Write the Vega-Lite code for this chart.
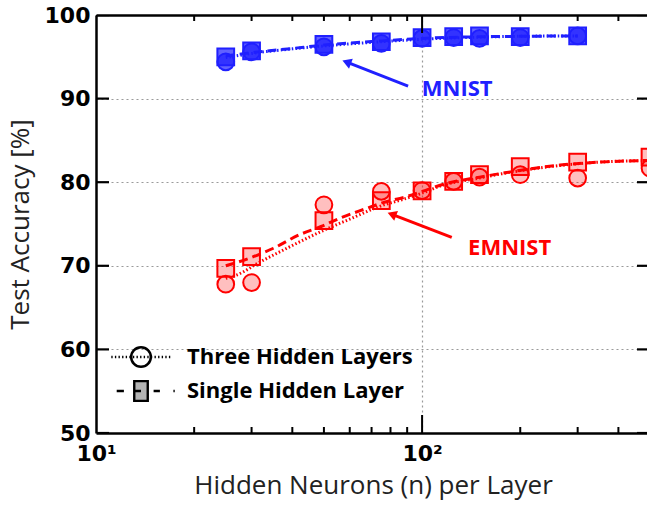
{
  "$schema": "https://vega.github.io/schema/vega-lite/v6.json",
  "width": 554,
  "height": 418,
  "autosize": "none",
  "padding": {"left": 96, "top": 15, "right": 0, "bottom": 82},
  "background": "white",
  "config": {
    "view": {"stroke": null},
    "axis": {
      "domainColor": "black",
      "domainWidth": 2.5,
      "ticks": false,
      "labelColor": "black",
      "labelFont": "DejaVu Sans",
      "labelFontWeight": "bold",
      "labelFontSize": 22,
      "titleFont": "Open Sans",
      "titleFontWeight": "normal",
      "titleFontSize": 26,
      "titleColor": "#222222",
      "gridColor": "#9a9a9a",
      "gridDash": [2, 3],
      "gridWidth": 1.2
    }
  },
  "datasets": {
    "curves": [
      {"dataset": "MNIST", "layers": "Three Hidden Layers", "n": 25, "acc": 94.9},
      {"dataset": "MNIST", "layers": "Three Hidden Layers", "n": 30, "acc": 95.4},
      {"dataset": "MNIST", "layers": "Three Hidden Layers", "n": 40, "acc": 95.95},
      {"dataset": "MNIST", "layers": "Three Hidden Layers", "n": 50, "acc": 96.3},
      {"dataset": "MNIST", "layers": "Three Hidden Layers", "n": 75, "acc": 96.8},
      {"dataset": "MNIST", "layers": "Three Hidden Layers", "n": 100, "acc": 97.1},
      {"dataset": "MNIST", "layers": "Three Hidden Layers", "n": 150, "acc": 97.35},
      {"dataset": "MNIST", "layers": "Three Hidden Layers", "n": 200, "acc": 97.45},
      {"dataset": "MNIST", "layers": "Three Hidden Layers", "n": 300, "acc": 97.5},
      {"dataset": "MNIST", "layers": "Single Hidden Layer", "n": 25, "acc": 95.1},
      {"dataset": "MNIST", "layers": "Single Hidden Layer", "n": 30, "acc": 95.5},
      {"dataset": "MNIST", "layers": "Single Hidden Layer", "n": 40, "acc": 96.0},
      {"dataset": "MNIST", "layers": "Single Hidden Layer", "n": 50, "acc": 96.4},
      {"dataset": "MNIST", "layers": "Single Hidden Layer", "n": 75, "acc": 96.9},
      {"dataset": "MNIST", "layers": "Single Hidden Layer", "n": 100, "acc": 97.2},
      {"dataset": "MNIST", "layers": "Single Hidden Layer", "n": 150, "acc": 97.4},
      {"dataset": "MNIST", "layers": "Single Hidden Layer", "n": 200, "acc": 97.45},
      {"dataset": "MNIST", "layers": "Single Hidden Layer", "n": 300, "acc": 97.5},
      {"dataset": "EMNIST", "layers": "Three Hidden Layers", "n": 25, "acc": 68.5},
      {"dataset": "EMNIST", "layers": "Three Hidden Layers", "n": 27, "acc": 68.9},
      {"dataset": "EMNIST", "layers": "Three Hidden Layers", "n": 32, "acc": 70.5},
      {"dataset": "EMNIST", "layers": "Three Hidden Layers", "n": 38.5, "acc": 72.1},
      {"dataset": "EMNIST", "layers": "Three Hidden Layers", "n": 49, "acc": 74.1},
      {"dataset": "EMNIST", "layers": "Three Hidden Layers", "n": 61, "acc": 75.7},
      {"dataset": "EMNIST", "layers": "Three Hidden Layers", "n": 74, "acc": 77.1},
      {"dataset": "EMNIST", "layers": "Three Hidden Layers", "n": 90, "acc": 78.1},
      {"dataset": "EMNIST", "layers": "Three Hidden Layers", "n": 100, "acc": 78.7},
      {"dataset": "EMNIST", "layers": "Three Hidden Layers", "n": 115, "acc": 79.6},
      {"dataset": "EMNIST", "layers": "Three Hidden Layers", "n": 150, "acc": 80.5},
      {"dataset": "EMNIST", "layers": "Three Hidden Layers", "n": 175, "acc": 81.0},
      {"dataset": "EMNIST", "layers": "Three Hidden Layers", "n": 265, "acc": 82.0},
      {"dataset": "EMNIST", "layers": "Three Hidden Layers", "n": 350, "acc": 82.4},
      {"dataset": "EMNIST", "layers": "Three Hidden Layers", "n": 500, "acc": 82.6},
      {"dataset": "EMNIST", "layers": "Single Hidden Layer", "n": 25, "acc": 70.0},
      {"dataset": "EMNIST", "layers": "Single Hidden Layer", "n": 30, "acc": 71.0},
      {"dataset": "EMNIST", "layers": "Single Hidden Layer", "n": 35, "acc": 72.1},
      {"dataset": "EMNIST", "layers": "Single Hidden Layer", "n": 42, "acc": 73.7},
      {"dataset": "EMNIST", "layers": "Single Hidden Layer", "n": 49, "acc": 74.7},
      {"dataset": "EMNIST", "layers": "Single Hidden Layer", "n": 56, "acc": 75.7},
      {"dataset": "EMNIST", "layers": "Single Hidden Layer", "n": 68, "acc": 76.9},
      {"dataset": "EMNIST", "layers": "Single Hidden Layer", "n": 75, "acc": 77.5},
      {"dataset": "EMNIST", "layers": "Single Hidden Layer", "n": 90, "acc": 78.3},
      {"dataset": "EMNIST", "layers": "Single Hidden Layer", "n": 100, "acc": 78.9},
      {"dataset": "EMNIST", "layers": "Single Hidden Layer", "n": 115, "acc": 79.7},
      {"dataset": "EMNIST", "layers": "Single Hidden Layer", "n": 150, "acc": 80.6},
      {"dataset": "EMNIST", "layers": "Single Hidden Layer", "n": 175, "acc": 81.05},
      {"dataset": "EMNIST", "layers": "Single Hidden Layer", "n": 265, "acc": 82.05},
      {"dataset": "EMNIST", "layers": "Single Hidden Layer", "n": 350, "acc": 82.4},
      {"dataset": "EMNIST", "layers": "Single Hidden Layer", "n": 500, "acc": 82.6}
    ],
    "points": [
      {"dataset": "MNIST", "layers": "Three Hidden Layers", "n": 25, "acc": 94.4},
      {"dataset": "MNIST", "layers": "Three Hidden Layers", "n": 30, "acc": 95.6},
      {"dataset": "MNIST", "layers": "Three Hidden Layers", "n": 50, "acc": 96.2},
      {"dataset": "MNIST", "layers": "Three Hidden Layers", "n": 75, "acc": 96.6},
      {"dataset": "MNIST", "layers": "Three Hidden Layers", "n": 100, "acc": 97.2},
      {"dataset": "MNIST", "layers": "Three Hidden Layers", "n": 125, "acc": 97.3},
      {"dataset": "MNIST", "layers": "Three Hidden Layers", "n": 150, "acc": 97.2},
      {"dataset": "MNIST", "layers": "Three Hidden Layers", "n": 200, "acc": 97.3},
      {"dataset": "MNIST", "layers": "Three Hidden Layers", "n": 300, "acc": 97.5},
      {"dataset": "EMNIST", "layers": "Three Hidden Layers", "n": 25, "acc": 67.8},
      {"dataset": "EMNIST", "layers": "Three Hidden Layers", "n": 30, "acc": 68.0},
      {"dataset": "EMNIST", "layers": "Three Hidden Layers", "n": 50, "acc": 77.3},
      {"dataset": "EMNIST", "layers": "Three Hidden Layers", "n": 75, "acc": 78.9},
      {"dataset": "EMNIST", "layers": "Three Hidden Layers", "n": 100, "acc": 79.0},
      {"dataset": "EMNIST", "layers": "Three Hidden Layers", "n": 125, "acc": 80.1},
      {"dataset": "EMNIST", "layers": "Three Hidden Layers", "n": 150, "acc": 80.6},
      {"dataset": "EMNIST", "layers": "Three Hidden Layers", "n": 200, "acc": 80.9},
      {"dataset": "EMNIST", "layers": "Three Hidden Layers", "n": 300, "acc": 80.5},
      {"dataset": "EMNIST", "layers": "Three Hidden Layers", "n": 500, "acc": 81.7},
      {"dataset": "MNIST", "layers": "Single Hidden Layer", "n": 25, "acc": 95.0},
      {"dataset": "MNIST", "layers": "Single Hidden Layer", "n": 30, "acc": 95.7},
      {"dataset": "MNIST", "layers": "Single Hidden Layer", "n": 50, "acc": 96.5},
      {"dataset": "MNIST", "layers": "Single Hidden Layer", "n": 75, "acc": 96.8},
      {"dataset": "MNIST", "layers": "Single Hidden Layer", "n": 100, "acc": 97.3},
      {"dataset": "MNIST", "layers": "Single Hidden Layer", "n": 125, "acc": 97.4},
      {"dataset": "MNIST", "layers": "Single Hidden Layer", "n": 150, "acc": 97.5},
      {"dataset": "MNIST", "layers": "Single Hidden Layer", "n": 200, "acc": 97.4},
      {"dataset": "MNIST", "layers": "Single Hidden Layer", "n": 300, "acc": 97.5},
      {"dataset": "EMNIST", "layers": "Single Hidden Layer", "n": 25, "acc": 69.7},
      {"dataset": "EMNIST", "layers": "Single Hidden Layer", "n": 30, "acc": 71.1},
      {"dataset": "EMNIST", "layers": "Single Hidden Layer", "n": 50, "acc": 75.4},
      {"dataset": "EMNIST", "layers": "Single Hidden Layer", "n": 75, "acc": 77.8},
      {"dataset": "EMNIST", "layers": "Single Hidden Layer", "n": 100, "acc": 78.95},
      {"dataset": "EMNIST", "layers": "Single Hidden Layer", "n": 125, "acc": 80.1},
      {"dataset": "EMNIST", "layers": "Single Hidden Layer", "n": 150, "acc": 80.9},
      {"dataset": "EMNIST", "layers": "Single Hidden Layer", "n": 200, "acc": 81.85},
      {"dataset": "EMNIST", "layers": "Single Hidden Layer", "n": 300, "acc": 82.4},
      {"dataset": "EMNIST", "layers": "Single Hidden Layer", "n": 500, "acc": 83.0}
    ],
    "arrows": [
      {"dataset": "MNIST", "n": 90.6, "acc": 91.5, "n2": 59.3, "acc2": 94.3},
      {"dataset": "EMNIST", "n": 123.3, "acc": 73.4, "n2": 81.6, "acc2": 76.1}
    ],
    "notes": [
      {"dataset": "MNIST", "label": "MNIST", "n": 99.8, "acc": 91.15},
      {"dataset": "EMNIST", "label": "EMNIST", "n": 138.4, "acc": 72.1}
    ],
    "xticks": [
      {"n": 10, "kind": "major"}, {"n": 20, "kind": "minor"}, {"n": 30, "kind": "minor"},
      {"n": 40, "kind": "minor"}, {"n": 50, "kind": "minor"}, {"n": 60, "kind": "minor"},
      {"n": 70, "kind": "minor"}, {"n": 80, "kind": "minor"}, {"n": 90, "kind": "minor"},
      {"n": 100, "kind": "major"}, {"n": 200, "kind": "minor"}, {"n": 300, "kind": "minor"},
      {"n": 400, "kind": "minor"}
    ],
    "yticks": [
      {"acc": 50}, {"acc": 60}, {"acc": 70}, {"acc": 80}, {"acc": 90}, {"acc": 100}
    ]
  },
  "layer": [
    {
      "data": {"name": "curves"},
      "mark": {"type": "line", "strokeWidth": 3, "interpolate": "monotone", "clip": true},
      "encoding": {
        "x": {
          "field": "n", "type": "quantitative",
          "scale": {"type": "log", "domain": [10, 500], "nice": false},
          "axis": {
            "orient": "bottom",
            "values": [10, 20, 30, 40, 50, 60, 70, 80, 90, 100, 200, 300, 400],
            "labelExpr": "datum.value == 10 ? '10¹' : datum.value == 100 ? '10²' : ''",
            "labelPadding": 10,
            "labelBaseline": "top",
            "labelFlush": false,
            "labelOverlap": false,
            "grid": true,
            "gridOpacity": {"condition": {"test": "datum.value == 100", "value": 1}, "value": 0},
            "title": "Hidden Neurons (n) per Layer",
            "titlePadding": 8
          }
        },
        "y": {
          "field": "acc", "type": "quantitative",
          "scale": {"domain": [50, 100], "nice": false},
          "axis": {
            "orient": "left",
            "values": [50, 60, 70, 80, 90, 100],
            "labelPadding": 6,
            "grid": true,
            "title": "Test Accuracy [%]",
            "titlePadding": 11
          }
        },
        "stroke": {
          "field": "dataset", "type": "nominal",
          "scale": {"domain": ["MNIST", "EMNIST"], "range": ["#2020ff", "#ff0000"]},
          "legend": null
        },
        "strokeDash": {
          "field": "layers", "type": "nominal",
          "scale": {"domain": ["Single Hidden Layer", "Three Hidden Layers"], "range": [[9, 5], [1.5, 2.2]]},
          "legend": null
        }
      }
    },
    {
      "data": {"name": "points"},
      "mark": {"type": "point", "filled": false, "size": 280, "strokeWidth": 2, "opacity": 1, "clip": false},
      "encoding": {
        "x": {
          "field": "n", "type": "quantitative",
          "axis": {
            "orient": "top",
            "values": [10, 100],
            "labels": false,
            "grid": false,
            "title": null
          }
        },
        "y": {
          "field": "acc", "type": "quantitative",
          "axis": {
            "orient": "right",
            "values": [50, 100],
            "labels": false,
            "grid": false,
            "title": null
          }
        },
        "shape": {
          "field": "layers", "type": "nominal",
          "scale": {"domain": ["Single Hidden Layer", "Three Hidden Layers"], "range": ["square", "circle"]},
          "legend": null
        },
        "stroke": {
          "field": "dataset", "type": "nominal",
          "scale": {"domain": ["MNIST", "EMNIST"], "range": ["#2020ff", "#ff0000"]},
          "legend": null
        },
        "fill": {
          "field": "dataset", "type": "nominal",
          "scale": {"domain": ["MNIST", "EMNIST"], "range": ["#2020ff", "#ff0000"]},
          "legend": null
        },
        "fillOpacity": {
          "field": "dataset", "type": "nominal",
          "scale": {"domain": ["MNIST", "EMNIST"], "range": [0.7, 0.25]},
          "legend": null
        }
      }
    },
    {
      "data": {"name": "points"},
      "mark": {"type": "point", "filled": false, "opacity": 0, "size": 0},
      "encoding": {
        "x": {"field": "n", "type": "quantitative", "axis": null},
        "y": {"field": "acc", "type": "quantitative", "axis": null},
        "fill": {
          "field": "layers", "type": "nominal",
          "scale": {"domain": ["Three Hidden Layers", "Single Hidden Layer"], "range": ["transparent", "#b4b4b4"]}
        },
        "stroke": {
          "field": "layers", "type": "nominal",
          "scale": {"domain": ["Three Hidden Layers", "Single Hidden Layer"], "range": ["black", "black"]}
        },
        "shape": {
          "field": "layers", "type": "nominal",
          "scale": {
            "domain": ["Three Hidden Layers", "Single Hidden Layer"],
            "range": [
              "M-3.3,0h0.15M-2.9,0h0.15M-2.5,0h0.15M-2.1,0h0.15M-1.7,0h0.15M-1.3,0h0.15M-0.9,0h0.15M-0.5,0h0.15M-0.1,0h0.15M0.3,0h0.15M0.7,0h0.15M1.1,0h0.15M1.5,0h0.15M1.9,0h0.15M2.3,0h0.15M2.7,0h0.15M3.1,0h0.15M1.1,0A1.1,1.1,0,1,1,-1.1,0A1.1,1.1,0,1,1,1.1,0ZM1.09,0A1.09,1.09,0,1,0,-1.09,0A1.09,1.09,0,1,0,1.09,0Z",
              "M-2.7,0h0.8M1.4,0h0.7M3.6,0h0.15M-0.75,-1.1h1.5v2.2h-1.5ZM-0.75,0h0.75"
            ]
          },
          "legend": {
            "title": null,
            "orient": "none",
            "legendX": 34,
            "legendY": 331,
            "symbolSize": 324,
            "symbolOpacity": 1,
            "symbolStrokeColor": "black",
            "symbolStrokeWidth": 2.4,
            "labelFont": "Open Sans",
            "labelFontWeight": "bold",
            "labelFontSize": 22,
            "labelColor": "black",
            "labelLimit": 400,
            "labelOffset": 35,
            "rowPadding": 4,
            "padding": 0
          }
        }
      }
    },
    {
      "data": {"name": "xticks"},
      "mark": {"type": "tick", "orient": "vertical", "thickness": 2, "color": "black", "opacity": 1, "clip": true},
      "encoding": {
        "x": {"field": "n", "type": "quantitative", "axis": null},
        "y": {"datum": 50, "type": "quantitative", "axis": null},
        "size": {"field": "kind", "type": "nominal", "scale": {"domain": ["major", "minor"], "range": [36, 12]}, "legend": null}
      }
    },
    {
      "data": {"name": "xticks"},
      "mark": {"type": "tick", "orient": "vertical", "thickness": 2, "color": "black", "opacity": 1, "clip": true},
      "encoding": {
        "x": {"field": "n", "type": "quantitative", "axis": null},
        "y": {"datum": 100, "type": "quantitative", "axis": null},
        "size": {"field": "kind", "type": "nominal", "legend": null}
      }
    },
    {
      "data": {"name": "yticks"},
      "mark": {"type": "tick", "orient": "horizontal", "thickness": 2.2, "size": 26, "color": "black", "opacity": 1, "clip": true},
      "encoding": {
        "x": {"datum": 10, "type": "quantitative", "axis": null},
        "y": {"field": "acc", "type": "quantitative", "axis": null}
      }
    },
    {
      "data": {"name": "yticks"},
      "mark": {"type": "tick", "orient": "horizontal", "thickness": 2.2, "size": 26, "color": "black", "opacity": 1, "clip": true},
      "encoding": {
        "x": {"datum": 500, "type": "quantitative", "axis": null},
        "y": {"field": "acc", "type": "quantitative", "axis": null}
      }
    },
    {
      "data": {"name": "arrows"},
      "mark": {"type": "rule", "strokeWidth": 3},
      "encoding": {
        "x": {"field": "n", "type": "quantitative", "axis": null},
        "y": {"field": "acc", "type": "quantitative", "axis": null},
        "x2": {"field": "n2"},
        "y2": {"field": "acc2"},
        "stroke": {
          "field": "dataset", "type": "nominal",
          "scale": {"domain": ["MNIST", "EMNIST"], "range": ["#2020ff", "#ff0000"]},
          "legend": null
        }
      }
    },
    {
      "data": {"name": "arrows"},
      "mark": {"type": "point", "shape": "triangle", "filled": true, "size": 110, "angle": 291, "opacity": 1},
      "encoding": {
        "x": {"field": "n2", "type": "quantitative", "axis": null},
        "y": {"field": "acc2", "type": "quantitative", "axis": null},
        "color": {
          "field": "dataset", "type": "nominal",
          "scale": {"domain": ["MNIST", "EMNIST"], "range": ["#2020ff", "#ff0000"]},
          "legend": null
        }
      }
    },
    {
      "data": {"name": "notes"},
      "mark": {"type": "text", "align": "left", "baseline": "middle", "font": "Open Sans", "fontWeight": "bold", "fontSize": 22},
      "encoding": {
        "x": {"field": "n", "type": "quantitative", "axis": null},
        "y": {"field": "acc", "type": "quantitative", "axis": null},
        "text": {"field": "label"},
        "color": {"field": "dataset", "type": "nominal", "legend": null}
      }
    }
  ],
  "resolve": {
    "axis": {"x": "independent", "y": "independent"},
    "scale": {"shape": "independent", "fill": "independent", "stroke": "independent"}
  }
}
